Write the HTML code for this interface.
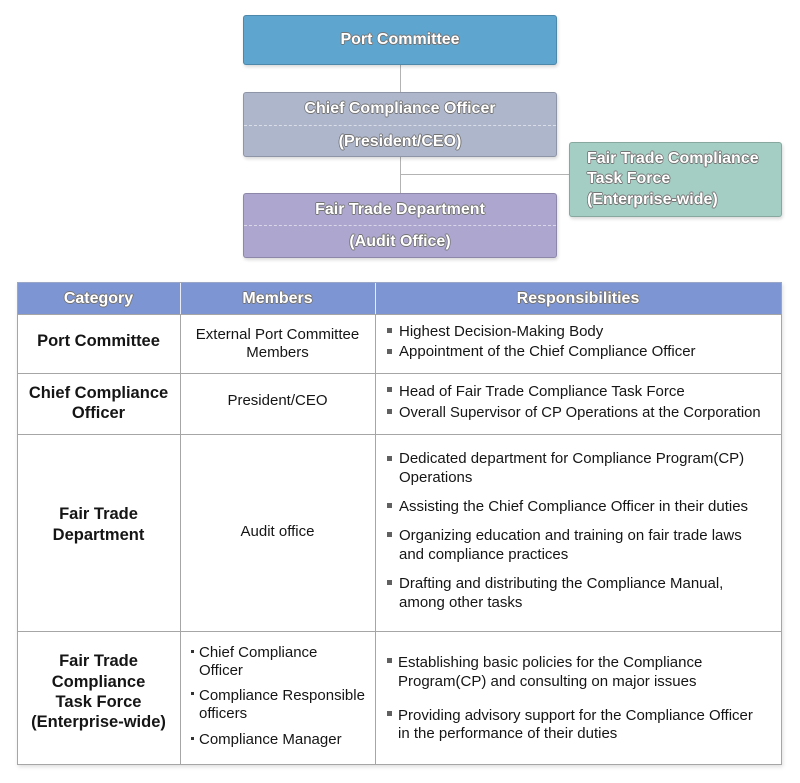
<!DOCTYPE html>
<html><head><meta charset="utf-8">
<style>
*{margin:0;padding:0;box-sizing:border-box}
html,body{width:800px;height:783px;background:#fff;overflow:hidden}
body{position:relative;font-family:"Liberation Sans",Arial,sans-serif;color:#151515}
.box{position:absolute;border:1px solid rgba(0,0,0,0.18);border-radius:3px;box-shadow:1px 2px 3px rgba(0,0,0,0.15)}
.bt{position:absolute;left:0;width:100%;height:20px;line-height:20px;text-align:center;font-weight:bold;font-size:16px;color:#fff;white-space:nowrap;
text-shadow:-0.8px 0 #747474,0.8px 0 #747474,0 -0.8px #747474,0 0.8px #747474,-0.6px -0.6px #747474,0.6px 0.6px #747474,-0.6px 0.6px #747474,0.6px -0.6px #747474}
.dash{position:absolute;left:0;right:0;border-top:1px dashed rgba(255,255,255,0.55)}
.ln{position:absolute;background:#b3b3b3}
.hl{position:absolute;height:1px;background:#a6a6a6}
.vl{position:absolute;width:1px;background:#a6a6a6}
.t{position:absolute;height:20px;line-height:20px;white-space:nowrap;font-size:15px}
.c{text-align:center}
.cat{font-weight:bold;font-size:16.5px}
.sq{position:absolute;width:5px;height:5px;background:#606060}
.dot{position:absolute;width:3px;height:3px;background:#333}
</style></head><body>

<!-- connectors -->
<div class="ln" style="left:400px;top:64px;width:1px;height:28px"></div>
<div class="ln" style="left:400px;top:156px;width:1px;height:37px"></div>
<div class="ln" style="left:400px;top:174px;width:169px;height:1px"></div>

<!-- boxes -->
<div class="box" style="left:243px;top:15px;width:314px;height:50px;background:#5ea5cf">
  <div class="bt" style="top:14px">Port Committee</div>
</div>
<div class="box" style="left:243px;top:92px;width:314px;height:65px;background:#aeb6cc">
  <div class="bt" style="top:6px">Chief Compliance Officer</div>
  <div class="dash" style="top:32px"></div>
  <div class="bt" style="top:39px">(President/CEO)</div>
</div>
<div class="box" style="left:243px;top:193px;width:314px;height:65px;background:#ada6cf">
  <div class="bt" style="top:6px">Fair Trade Department</div>
  <div class="dash" style="top:31px"></div>
  <div class="bt" style="top:38px">(Audit Office)</div>
</div>
<div class="box" style="left:569px;top:142px;width:213px;height:75px;background:#a4cec3">
  <div class="bt" style="top:6px;left:17px;text-align:left">Fair Trade Compliance</div>
  <div class="bt" style="top:26px;left:17px;text-align:left">Task Force</div>
  <div class="bt" style="top:47px;left:17px;text-align:left">(Enterprise-wide)</div>
</div>

<!-- table -->
<div style="position:absolute;left:17px;top:282px;width:765px;height:483px;box-shadow:1px 2px 4px rgba(0,0,0,0.13);background:#fff"></div>
<div style="position:absolute;left:17px;top:282px;width:765px;height:33px;background:#7e95d3"></div>
<div class="hl" style="left:17px;top:282px;width:765px;background:#9aa6c8"></div>
<div class="hl" style="left:17px;top:314px;width:765px"></div>
<div class="hl" style="left:17px;top:373px;width:765px"></div>
<div class="hl" style="left:17px;top:434px;width:765px"></div>
<div class="hl" style="left:17px;top:631px;width:765px"></div>
<div class="hl" style="left:17px;top:764px;width:765px"></div>
<div class="vl" style="left:17px;top:282px;height:483px"></div>
<div class="vl" style="left:180px;top:282px;height:483px"></div>
<div class="vl" style="left:375px;top:282px;height:483px"></div>
<div class="vl" style="left:781px;top:282px;height:483px"></div>
<div class="vl" style="left:180px;top:283px;height:31px;background:#e8ecf7"></div>
<div class="vl" style="left:375px;top:283px;height:31px;background:#e8ecf7"></div>

<!-- header -->
<div class="bt" style="left:17px;width:163px;top:289px">Category</div>
<div class="bt" style="left:180px;width:195px;top:289px">Members</div>
<div class="bt" style="left:375px;width:406px;top:289px">Responsibilities</div>

<!-- category column -->
<div class="t c cat" style="left:17px;width:163px;top:331px">Port Committee</div>
<div class="t c cat" style="left:17px;width:163px;top:383px">Chief Compliance</div>
<div class="t c cat" style="left:17px;width:163px;top:403px">Officer</div>
<div class="t c cat" style="left:17px;width:163px;top:504px">Fair Trade</div>
<div class="t c cat" style="left:17px;width:163px;top:525px">Department</div>
<div class="t c cat" style="left:17px;width:163px;top:651px">Fair Trade</div>
<div class="t c cat" style="left:17px;width:163px;top:672px">Compliance</div>
<div class="t c cat" style="left:17px;width:163px;top:692px">Task Force</div>
<div class="t c cat" style="left:17px;width:163px;top:712px">(Enterprise-wide)</div>

<!-- members column -->
<div class="t c" style="left:180px;width:195px;top:325px">External Port Committee</div>
<div class="t c" style="left:180px;width:195px;top:343px">Members</div>
<div class="t c" style="left:180px;width:195px;top:391px">President/CEO</div>
<div class="t c" style="left:180px;width:195px;top:522px">Audit office</div>
<div class="dot" style="left:191px;top:650px"></div>
<div class="t" style="left:199px;top:643px">Chief Compliance</div>
<div class="t" style="left:199px;top:661px">Officer</div>
<div class="dot" style="left:191px;top:692px"></div>
<div class="t" style="left:199px;top:686px">Compliance Responsible</div>
<div class="t" style="left:199px;top:704px">officers</div>
<div class="dot" style="left:191px;top:737px"></div>
<div class="t" style="left:199px;top:730px">Compliance Manager</div>

<!-- responsibilities column -->
<div class="sq" style="left:387px;top:328px"></div>
<div class="t" style="left:399px;top:322px">Highest Decision-Making Body</div>
<div class="sq" style="left:387px;top:349px"></div>
<div class="t" style="left:399px;top:342px">Appointment of the Chief Compliance Officer</div>

<div class="sq" style="left:387px;top:387px"></div>
<div class="t" style="left:399px;top:382px">Head of Fair Trade Compliance Task Force</div>
<div class="sq" style="left:387px;top:409px"></div>
<div class="t" style="left:399px;top:403px;font-size:14.8px">Overall Supervisor of CP Operations at the Corporation</div>

<div class="sq" style="left:387px;top:456px"></div>
<div class="t" style="left:399px;top:449px">Dedicated department for Compliance Program(CP)</div>
<div class="t" style="left:399px;top:468px">Operations</div>
<div class="sq" style="left:387px;top:503px"></div>
<div class="t" style="left:399px;top:497px">Assisting the Chief Compliance Officer in their duties</div>
<div class="sq" style="left:387px;top:532px"></div>
<div class="t" style="left:399px;top:526px">Organizing education and training on fair trade laws</div>
<div class="t" style="left:399px;top:545px">and compliance practices</div>
<div class="sq" style="left:387px;top:580px"></div>
<div class="t" style="left:399px;top:574px">Drafting and distributing the Compliance Manual,</div>
<div class="t" style="left:399px;top:593px">among other tasks</div>

<div class="sq" style="left:387px;top:658px"></div>
<div class="t" style="left:398px;top:653px">Establishing basic policies for the Compliance</div>
<div class="t" style="left:398px;top:672px">Program(CP) and consulting on major issues</div>
<div class="sq" style="left:387px;top:711px"></div>
<div class="t" style="left:398px;top:706px">Providing advisory support for the Compliance Officer</div>
<div class="t" style="left:398px;top:724px">in the performance of their duties</div>

</body></html>
